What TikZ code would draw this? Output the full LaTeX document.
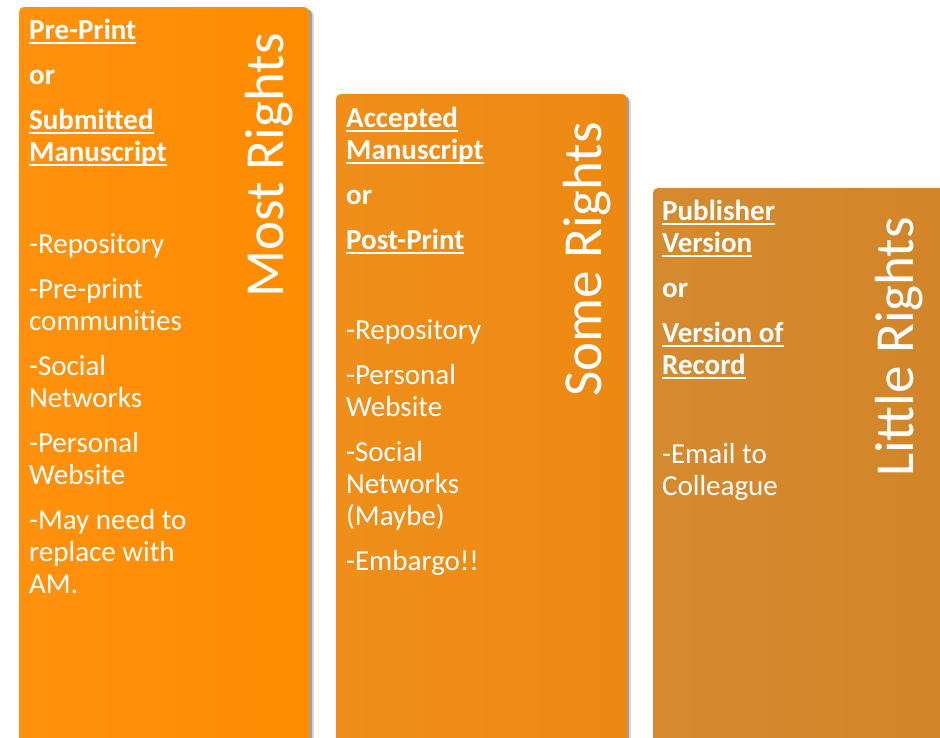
\documentclass[tikz,border=0pt]{standalone}
\usepackage{fontspec}
\setmainfont{Carlito}
\newlength{\hdw}
\newcommand{\hd}[1]{\settowidth{\hdw}{\textbf{#1}}\textbf{#1}\hspace{-\hdw}\rule[-4.8pt]{\hdw}{1.8pt}}
\definecolor{cA}{RGB}{255,140,0}
\definecolor{cAl}{RGB}{255,145,14}
\definecolor{cB}{RGB}{236,137,18}
\definecolor{cBl}{RGB}{239,142,26}
\definecolor{cC}{RGB}{210,133,40}
\definecolor{cCl}{RGB}{214,138,48}
\definecolor{shd}{RGB}{110,110,110}
\newcommand{\colAtext}{\spaceskip=0pt\xspaceskip=0pt\rule{0pt}{24pt}\hd{Pre-Print}\par
\textbf{or}\par
\hd{Submitted}\\\hd{Manuscript}\par
\vspace{47pt}
-Repository\par
-Pre-print\\communities\par
-Social\\Networks\par
-Personal\\Website\par
-May need to\\replace with\\AM.\par}
\newcommand{\colBtext}{\spaceskip=0pt\xspaceskip=0pt\rule{0pt}{24pt}\hd{Accepted}\\\hd{Manuscript}\par
\textbf{or}\par
\hd{Post-Print}\par
\vspace{45pt}
-Repository\par
-Personal\\Website\par
-Social\\Networks\\(Maybe)\par
-Embargo!!\par}
\newcommand{\colCtext}{\spaceskip=0pt\xspaceskip=0pt\rule{0pt}{24pt}\hd{Publisher}\\\hd{Version}\par
\textbf{or}\par
\hd{Version of}\\\hd{Record}\par
\vspace{44pt}
-Email to\\Colleague\par}
\tikzset{
  colshadowA/.style={fill=shd, opacity=0.55, rounded corners=5pt},
  colshadowB/.style={fill=shd, opacity=0.25, rounded corners=5pt},
  colfill/.style={rounded corners=5pt, shading angle=60},
  body/.style={anchor=north west, inner sep=0pt, text width=215pt, align=left,
    font=\fontsize{29}{32}\selectfont\setlength{\parskip}{13pt}, text=white},
  rights/.style={rotate=90, anchor=base west, inner sep=0pt,
    font=\fontsize{55}{60}\selectfont, text=white}
}
\begin{document}
\begin{tikzpicture}[x=1pt,y=1pt]
\useasboundingbox (0,0) rectangle (940,-737);
% column 1
\fill[colshadowB] (23,-750) rectangle (314,-10);
\fill[colshadowA] (21,-750) rectangle (312,-9);
\shade[colfill, left color=cAl, right color=cA] (19,-750) rectangle (309,-7);
% column 2
\fill[colshadowB] (340,-750) rectangle (631,-97);
\fill[colshadowA] (338,-750) rectangle (629,-96);
\shade[colfill, left color=cBl, right color=cB] (336,-750) rectangle (627,-94);
% column 3
\fill[colshadowB] (657,-750) rectangle (960,-191);
\fill[colshadowA] (655,-750) rectangle (958,-190);
\shade[colfill, left color=cCl, right color=cC] (653,-750) rectangle (956,-188);
% texts
\node[body] (t1) at (29,-15) {\colAtext};
\node[body] (t2) at (346,-103) {\colBtext};
\node[body] (t3) at (662,-196) {\colCtext};
\node[rights] (r1) at (283,-298) {Most Rights};
\node[rights] (r2) at (601,-397) {Some Rights};
\node[rights] (r3) at (913,-477) {Little Rights};
\end{tikzpicture}
\end{document}
